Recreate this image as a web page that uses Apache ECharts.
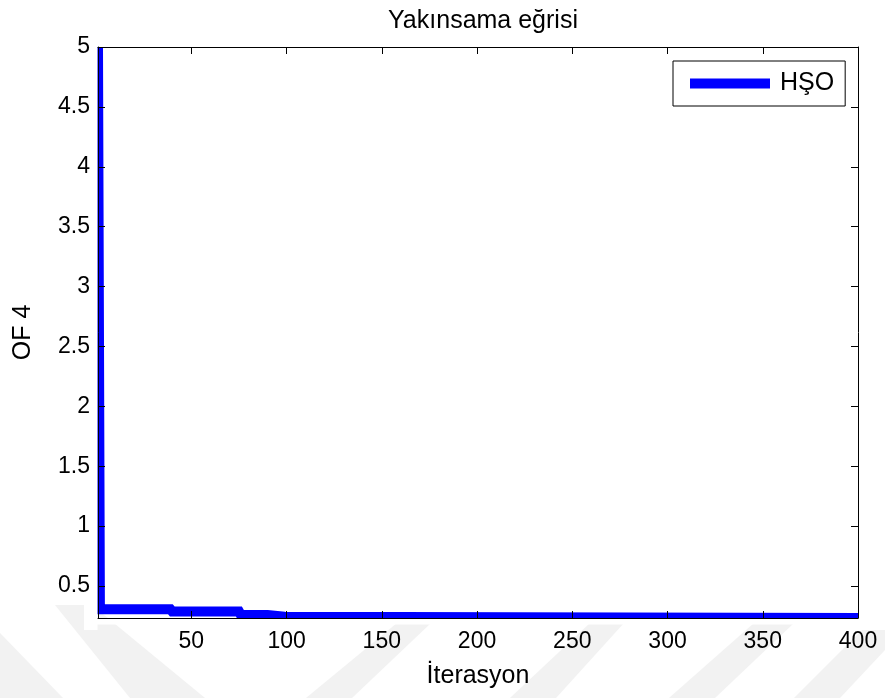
<!DOCTYPE html>
<html>
<head>
<meta charset="utf-8">
<script src="https://cdn.jsdelivr.net/npm/echarts@6/dist/echarts.min.js"></script>
<style>
html,body{margin:0;padding:0;background:#fff;}
#chart{width:885px;height:698px;}
</style>
</head>
<body>
<div id="chart"></div>
<script>
// Data (change points of the convergence curve)
const iterations = [1, 2, 39, 40, 75, 76, 90, 91, 99, 100, 400];
const of4Values = [5, 0.306, 0.306, 0.287, 0.287, 0.258, 0.258, 0.244, 0.244, 0.234, 0.234];
const xTickLabels = [50, 100, 150, 200, 250, 300, 350, 400];
const yTickLabels = [0.5, 1, 1.5, 2, 2.5, 3, 3.5, 4, 4.5, 5];
const seriesName = 'HŞO';
const titleText = 'Yakınsama eğrisi';
const xName = 'İterasyon';
const yName = 'OF 4';

const FONT = 'Liberation Sans, Arial, sans-serif';
const points = iterations.map((x, i) => [x, of4Values[i]]);

const chart = echarts.init(document.getElementById('chart'), null, {renderer: 'canvas'});

const xMin = 1, xMax = 400, yMin = 0.233, yMax = 5;
const axisLineStyle = {color: '#000', width: 1};
const tickStyle = {inside: true, length: 7, lineStyle: {color: '#000', width: 1}};

function xLabelFmt(v) { return xTickLabels.indexOf(Math.round(v)) >= 0 && Math.abs(v - Math.round(v)) < 1e-6 ? String(Math.round(v)) : ''; }
function yLabelFmt(v) { for (const t of yTickLabels) { if (Math.abs(v - t) < 1e-6) return String(t); } return ''; }

const stripeColor = '#f2f2f2';
function stripe(pts) {
  return {type: 'polygon', z: -10, silent: true, shape: {points: pts}, style: {fill: stripeColor}};
}
function mask(x, y, w, h) {
  return {type: 'rect', z: 5, silent: true, shape: {x: x, y: y, width: w, height: h}, style: {fill: '#fff'}};
}

chart.setOption({
  animation: false,
  backgroundColor: '#fff',
  graphic: [
    stripe([[0, 633], [0, 698], [63, 698]]),
    stripe([[55, 605], [92, 605], [205, 698], [130, 698]]),
    stripe([[397, 623], [431, 623], [352, 698], [306, 698]]),
    stripe([[590, 623], [624, 623], [556, 698], [510, 698]]),
    stripe([[754, 623], [794, 623], [715, 698], [669, 698]]),
    stripe([[862, 630], [885, 630], [885, 650], [840, 698], [794, 698]]),
    // hide the part of the thick line that falls outside the plot box (plot clipping)
    mask(84, 40, 13.5, 590),
    mask(84, 618.5, 790, 6)
  ],
  title: {
    text: titleText,
    left: 478,
    top: 4,
    textAlign: 'center',
    textStyle: {fontFamily: FONT, fontSize: 25, fontWeight: 'normal', color: '#000'}
  },
  legend: {
    data: [seriesName],
    left: 673,
    top: 61,
    orient: 'horizontal',
    icon: 'rect',
    itemWidth: 80,
    itemHeight: 10,
    itemGap: 0,
    padding: [10, 11, 10, 17],
    borderColor: '#000',
    borderWidth: 1,
    backgroundColor: '#fff',
    textStyle: {fontFamily: FONT, fontSize: 25, color: '#000', padding: [0, 0, 0, 5]}
  },
  grid: {left: 98, right: 27, top: 47, bottom: 80, containLabel: false},
  xAxis: [
    {
      type: 'value', position: 'bottom', min: xMin, max: xMax, z: 10,
      minInterval: 50, maxInterval: 50, splitNumber: 8,
      name: xName, nameLocation: 'middle', nameGap: 46,
      nameTextStyle: {fontFamily: FONT, fontSize: 25, color: '#000'},
      axisLine: {show: true, lineStyle: axisLineStyle, onZero: false},
      axisTick: tickStyle,
      axisLabel: {fontFamily: FONT, fontSize: 23, color: '#000', margin: 12, formatter: xLabelFmt, showMinLabel: false},
      splitLine: {show: false}
    },
    {
      type: 'value', position: 'top', min: xMin, max: xMax, z: 10,
      minInterval: 50, maxInterval: 50, splitNumber: 8,
      axisLine: {show: true, lineStyle: axisLineStyle, onZero: false},
      axisTick: tickStyle,
      axisLabel: {show: false},
      splitLine: {show: false}
    }
  ],
  yAxis: [
    {
      type: 'value', position: 'left', min: yMin, max: yMax, z: 10,
      minInterval: 0.5, maxInterval: 0.5, splitNumber: 10,
      name: yName, nameLocation: 'middle', nameGap: 62, nameRotate: 90,
      nameTextStyle: {fontFamily: FONT, fontSize: 25, color: '#000'},
      axisLine: {show: true, lineStyle: axisLineStyle, onZero: false},
      axisTick: tickStyle,
      axisLabel: {fontFamily: FONT, fontSize: 23, color: '#000', margin: 8, formatter: yLabelFmt, showMinLabel: false},
      splitLine: {show: false}
    },
    {
      type: 'value', position: 'right', min: yMin, max: yMax, z: 10,
      minInterval: 0.5, maxInterval: 0.5, splitNumber: 10,
      axisLine: {show: true, lineStyle: axisLineStyle, onZero: false},
      axisTick: tickStyle,
      axisLabel: {show: false},
      splitLine: {show: false}
    }
  ],
  series: [
    {
      name: seriesName,
      type: 'line',
      xAxisIndex: 0,
      yAxisIndex: 0,
      data: points,
      showSymbol: false,
      symbol: 'none',
      clip: true,
      lineStyle: {color: '#0000ff', width: 10, join: 'miter', cap: 'butt'},
      itemStyle: {color: '#0000ff'},
      z: 2
    }
  ]
});
</script>
</body>
</html>
